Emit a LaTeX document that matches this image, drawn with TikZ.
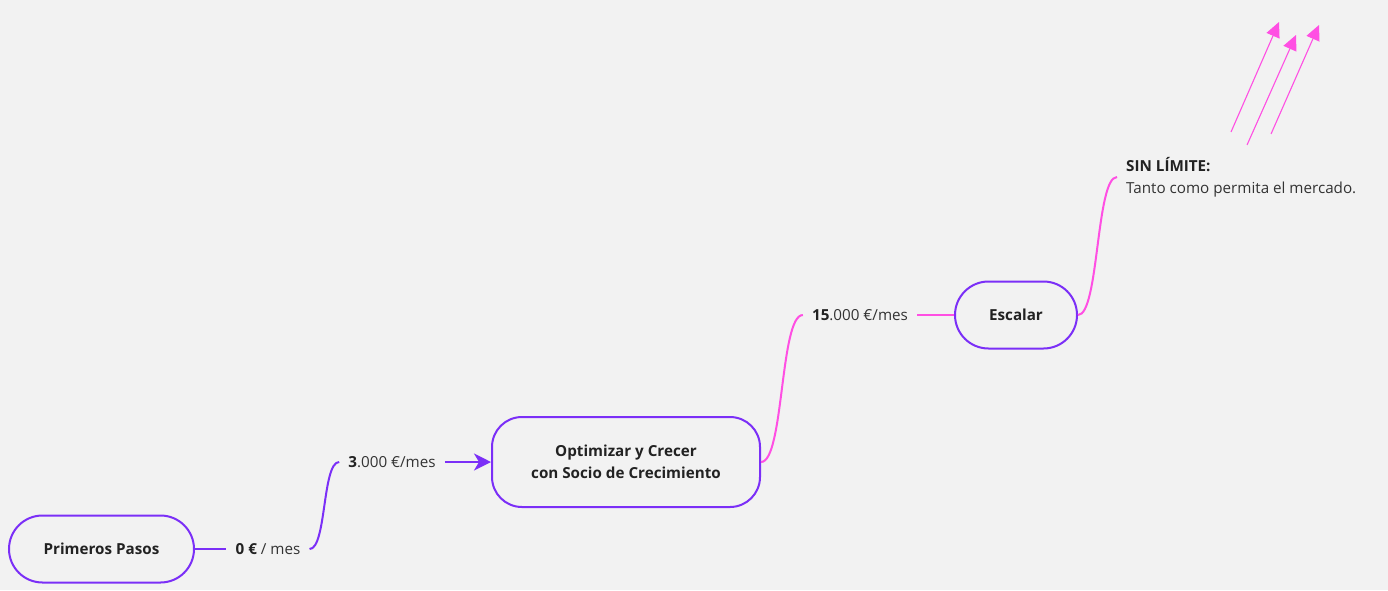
\documentclass[tikz,border=0pt]{standalone}
\usepackage{fontspec}
\setmainfont{Open Sans}
\usetikzlibrary{shapes.misc,arrows.meta}
\definecolor{bg}{HTML}{F2F2F2}
\definecolor{vio}{HTML}{7B2FF7}
\definecolor{pnk}{HTML}{FF4FE3}
\definecolor{txt}{HTML}{333333}
\definecolor{bold}{HTML}{222222}
\tikzset{
  stage/.style={draw=vio, line width=2pt, fill=bg, rounded rectangle, font=\fontsize{15.2}{18}\selectfont\bfseries, text=bold, inner sep=0pt},
  bigstage/.style={draw=vio, line width=2pt, fill=bg, rounded corners=30pt, align=center, font=\fontsize{15.2}{22}\selectfont\bfseries, text=bold, inner sep=0pt},
  amount/.style={font=\fontsize{15.2}{18}\selectfont, text=txt, inner xsep=9pt, inner ysep=2pt},
  vline/.style={draw=vio, line width=2pt},
  pline/.style={draw=pnk, line width=2pt},
  ray/.style={draw=pnk, line width=1.1pt, -{Triangle[length=15pt,width=14pt]}},
}
\begin{document}
\begin{tikzpicture}[x=1pt,y=-1pt]
\useasboundingbox[fill=bg] (0,0) rectangle (1388,590);
\node[stage, minimum width=185pt, minimum height=67pt] (pp) at (101.5,549) {Primeros Pasos};
\node[amount] (a0) at (268,549) {\textbf{\color{bold}0 €} / mes};
\node[amount] (a3) at (392,462) {\textbf{\color{bold}3}.000 €/mes};
\node[bigstage, minimum width=268pt, minimum height=90pt] (oc) at (626,462) {Optimizar y Crecer\\con Socio de Crecimiento};
\node[amount] (a15) at (860,315) {\textbf{\color{bold}15}.000 €/mes};
\node[stage, minimum width=122pt, minimum height=67pt] (es) at (1016,315) {Escalar};
\node[amount, anchor=west, align=left, font=\fontsize{15.2}{22}\selectfont] (sl) at (1117,177) {\textbf{\color{bold}SIN LÍMITE:}\\Tanto como permita el mercado.};

\draw[vline] (pp.east) -- (a0.west);
\draw[vline] (a0.east) .. controls +(17,0) and +(-17,0) .. (a3.west);
\draw[vline, -{Stealth[length=17pt,width=17pt,inset=5pt]}] (a3.east) -- (oc.west);
\draw[pline] (oc.east) .. controls +(23,0) and +(-23,0) .. (a15.west);
\draw[pline] (a15.east) -- (es.west);
\draw[pline] (es.east) .. controls +(21,0) and +(-21,0) .. (sl.west);

\coordinate (r1s) at (1231,132); \coordinate (r1e) at (1279,22);
\coordinate (r2s) at (1247,145); \coordinate (r2e) at (1296,35);
\coordinate (r3s) at (1271,134); \coordinate (r3e) at (1319,25);
\draw[ray] (r1s) -- (r1e);
\draw[ray] (r2s) -- (r2e);
\draw[ray] (r3s) -- (r3e);
\end{tikzpicture}
\end{document}
